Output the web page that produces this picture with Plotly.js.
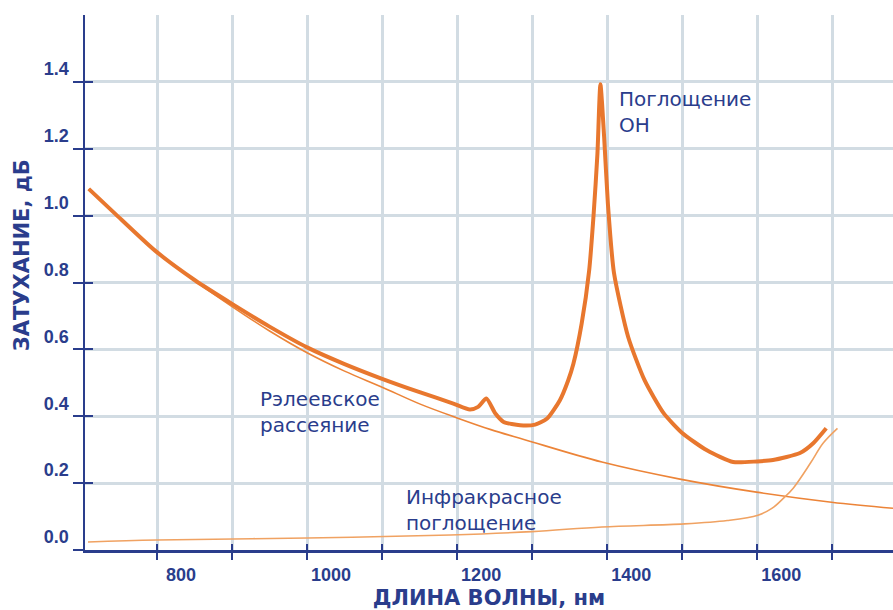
<!DOCTYPE html>
<html>
<head>
<meta charset="utf-8">
<script src="https://cdn.plot.ly/plotly-3.0.1.min.js"></script>
<style>
html,body{margin:0;padding:0;background:#ffffff;}
#chart{width:893px;height:610px;}
</style>
</head>
<body>
<div id="chart"></div>
<script>
// Total attenuation (thick curve)
const totalWl = [709, 744, 797, 851, 900, 950, 1000, 1050, 1100, 1150, 1195, 1217, 1228, 1239, 1251, 1262, 1284, 1304, 1320, 1337, 1348, 1355, 1366, 1376, 1382, 1387, 1391, 1396, 1401, 1409, 1428, 1450, 1475, 1500, 1533, 1568, 1600, 1621, 1657, 1675, 1692];
const totalDb = [1.08, 1.006, 0.896, 0.806, 0.736, 0.668, 0.606, 0.556, 0.512, 0.472, 0.438, 0.42, 0.428, 0.453, 0.408, 0.383, 0.373, 0.375, 0.393, 0.448, 0.507, 0.557, 0.677, 0.836, 1.005, 1.184, 1.393, 1.234, 1.035, 0.83, 0.637, 0.507, 0.41, 0.35, 0.298, 0.263, 0.265, 0.269, 0.29, 0.32, 0.364];

// Rayleigh scattering (thin curve)
const rayleighWl = [709, 744, 797, 851, 900, 950, 1000, 1050, 1100, 1150, 1200, 1245, 1290, 1393, 1497, 1599, 1699, 1781];
const rayleighDb = [1.08, 1.006, 0.896, 0.804, 0.728, 0.655, 0.59, 0.535, 0.487, 0.437, 0.395, 0.36, 0.33, 0.263, 0.212, 0.173, 0.143, 0.125];

// Infrared absorption (thin light curve)
const irWl = [708, 800, 1000, 1191, 1300, 1393, 1503, 1560, 1601, 1620, 1635, 1648, 1671, 1688, 1707];
const irDb = [0.024, 0.03, 0.036, 0.045, 0.055, 0.069, 0.078, 0.088, 0.104, 0.125, 0.155, 0.185, 0.26, 0.32, 0.364];

// Axis ticks
const xTickVals = [800, 900, 1000, 1100, 1200, 1300, 1400, 1500, 1600, 1700];
const xTickText = ['800', '', '1000', '', '1200', '', '1400', '', '1600', ''];
const yTickVals = [0, 0.2, 0.4, 0.6, 0.8, 1.0, 1.2, 1.4];
const yTickText = ['0.0', '0.2', '0.4', '0.6', '0.8', '1.0', '1.2', '1.4'];
const yGridVals = [0.2, 0.4, 0.6, 0.8, 1.0, 1.2, 1.4, 1.6];

const NAVY = '#2a3d8c';
const GRID = '#d2dce3';
const ORANGE = '#e8772e';

const traces = [
  {x: rayleighWl, y: rayleighDb, type: 'scatter', mode: 'lines',
   line: {color: '#ec8438', width: 1.6, shape: 'spline', smoothing: 1}, hoverinfo: 'skip'},
  {x: irWl, y: irDb, type: 'scatter', mode: 'lines', xaxis: 'x2', yaxis: 'y2',
   line: {color: '#f0a262', width: 1.6, shape: 'spline', smoothing: 1}, hoverinfo: 'skip'},
  {x: totalWl, y: totalDb, type: 'scatter', mode: 'lines',
   line: {color: ORANGE, width: 4, shape: 'spline', smoothing: 0.6}, hoverinfo: 'skip'}
];

const xRange = [704, 1781];
const yRange = [0, 1.6];

const layout = {
  width: 893, height: 610,
  margin: {l: 85, r: 0, t: 15, b: 60},
  paper_bgcolor: '#ffffff', plot_bgcolor: '#ffffff',
  showlegend: false,
  xaxis: {
    range: xRange, fixedrange: true,
    tickmode: 'array', tickvals: xTickVals, ticktext: xTickText,
    ticks: 'outside', ticklen: 7, tickwidth: 2, tickcolor: NAVY,
    showline: true, linecolor: NAVY, linewidth: 2.5,
    showgrid: true, gridcolor: GRID, gridwidth: 3,
    zeroline: false,
    tickfont: {family: 'Liberation Sans, Arial, sans-serif', size: 18, color: NAVY, weight: 'bold'},
    ticklabelshift: 24, ticklabelstandoff: 0,
    title: {text: 'ДЛИНА ВОЛНЫ, нм', standoff: 14,
      font: {family: 'DejaVu Sans, sans-serif', size: 21, color: NAVY, weight: 'bold'}}
  },
  xaxis2: {
    range: xRange, overlaying: 'x', anchor: 'y', side: 'bottom', fixedrange: true,
    tickmode: 'array', tickvals: xTickVals, showticklabels: false,
    ticks: 'inside', ticklen: 6, tickwidth: 2, tickcolor: NAVY,
    showline: false, showgrid: false, zeroline: false
  },
  yaxis: {
    range: yRange, fixedrange: true,
    tickmode: 'array', tickvals: yTickVals, ticktext: yTickText,
    ticks: 'outside', ticklen: 10, tickwidth: 2, tickcolor: NAVY,
    showline: true, linecolor: NAVY, linewidth: 2.5,
    showgrid: false, zeroline: false,
    tickfont: {family: 'Liberation Sans, Arial, sans-serif', size: 18, color: NAVY, weight: 'bold'},
    ticklabelshift: -13, ticklabelstandoff: 0
  },
  yaxis2: {
    range: yRange, overlaying: 'y', anchor: 'x', side: 'left', fixedrange: true,
    tickmode: 'array', tickvals: yGridVals, showticklabels: false,
    ticks: 'inside', ticklen: 8, tickwidth: 2, tickcolor: NAVY,
    showline: false, showgrid: true, gridcolor: GRID, gridwidth: 3, zeroline: false
  },
  annotations: [
    {text: 'ЗАТУХАНИЕ, дБ', xref: 'paper', yref: 'paper', x: -0.078, y: 0.551,
     xanchor: 'center', yanchor: 'middle', textangle: -90, showarrow: false,
     font: {family: 'DejaVu Sans, sans-serif', size: 21, color: NAVY, weight: 'bold'}},
    {text: 'Рэлеевское<br>рассеяние', xref: 'x', yref: 'y', x: 934, y: 0.412,
     xanchor: 'left', yanchor: 'middle', align: 'left', showarrow: false,
     font: {family: 'DejaVu Sans, sans-serif', size: 20, color: NAVY}},
    {text: 'Инфракрасное<br>поглощение', xref: 'x', yref: 'y', x: 1129, y: 0.12,
     xanchor: 'left', yanchor: 'middle', align: 'left', showarrow: false,
     font: {family: 'DejaVu Sans, sans-serif', size: 20, color: NAVY}},
    {text: 'Поглощение<br>ОН', xref: 'x', yref: 'y', x: 1413, y: 1.31,
     xanchor: 'left', yanchor: 'middle', align: 'left', showarrow: false,
     font: {family: 'DejaVu Sans, sans-serif', size: 20, color: NAVY}}
  ]
};

Plotly.newPlot('chart', traces, layout, {displayModeBar: false, staticPlot: true});
</script>
</body>
</html>
